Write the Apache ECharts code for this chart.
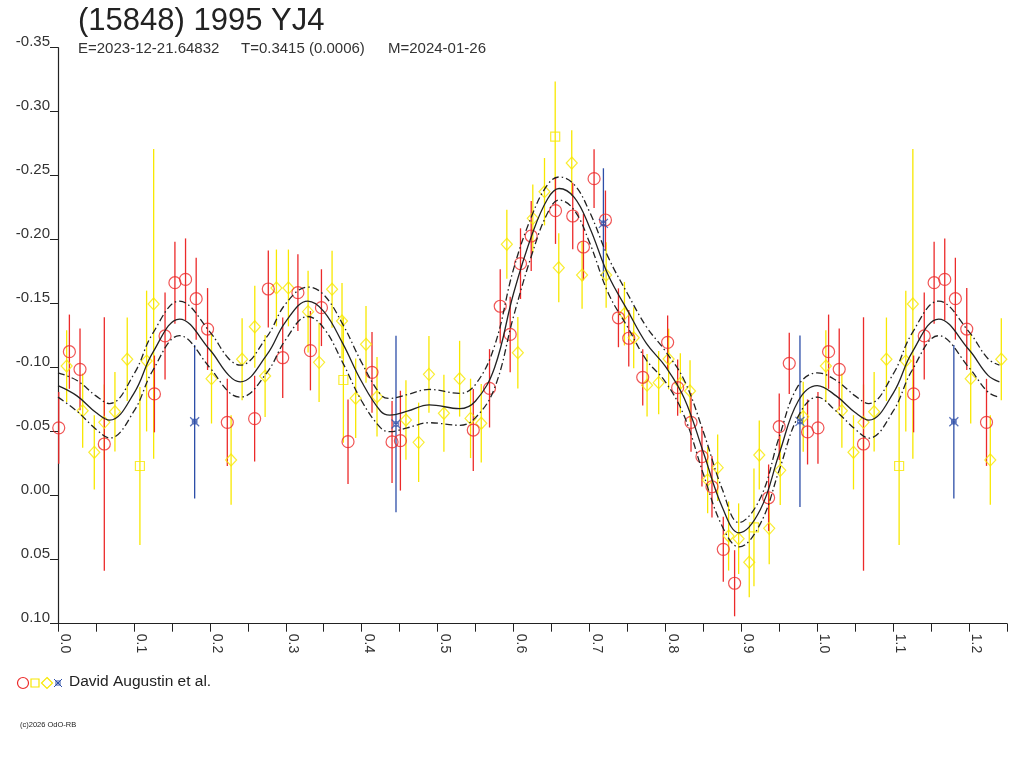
<!DOCTYPE html>
<html>
<head>
<meta charset="utf-8">
<script src="https://cdn.jsdelivr.net/npm/echarts@6/dist/echarts.min.js"></script>
<style>
  html, body { margin: 0; padding: 0; background: #fff; }
  #chart { width: 1024px; height: 768px; }
</style>
</head>
<body>
<div id="chart"></div>
<script>
// rotational phase vs. relative magnitude, one period; points below 0.25 are repeated after 1.0
const redPhase = [0.001, 0.015, 0.029, 0.061, 0.127, 0.141, 0.154, 0.168, 0.182, 0.197, 0.223, 0.259, 0.277, 0.296, 0.316, 0.3325, 0.347, 0.382, 0.4136, 0.440, 0.451, 0.547, 0.5684, 0.5825, 0.5956, 0.6092, 0.6233, 0.6553, 0.678, 0.6921, 0.7061, 0.7211, 0.7382, 0.7518, 0.7702, 0.803, 0.8162, 0.8338, 0.8482, 0.8614, 0.8763, 0.8912, 0.936, 0.95, 0.9632, 0.9873];
const redMag = [-0.053, -0.1125, -0.0987, -0.0404, -0.0795, -0.1248, -0.1664, -0.169, -0.1539, -0.1302, -0.0573, -0.0602, -0.1615, -0.1078, -0.1586, -0.1133, -0.1469, -0.0422, -0.0964, -0.042, -0.043, -0.0513, -0.0839, -0.148, -0.126, -0.1813, -0.2029, -0.2227, -0.2185, -0.1943, -0.2477, -0.2154, -0.139, -0.123, -0.0925, -0.1198, -0.0844, -0.0573, -0.0305, -0.007, 0.0419, 0.0684, 0.0016, -0.0539, -0.1034, -0.0498];
const redErr = [0.028, 0.029, 0.032, 0.099, 0.030, 0.034, 0.032, 0.032, 0.032, 0.032, 0.034, 0.0335, 0.030, 0.0315, 0.030, 0.031, 0.030, 0.033, 0.0315, 0.032, 0.039, 0.032, 0.0306, 0.029, 0.0295, 0.0276, 0.0273, 0.026, 0.026, 0.026, 0.023, 0.023, 0.023, 0.022, 0.022, 0.021, 0.022, 0.023, 0.0234, 0.024, 0.0254, 0.0258, 0.026, 0.026, 0.024, 0.0254];

const squarePhase = [0.1079, 0.3759, 0.6549, 0.9167];
const squareMag = [-0.0232, -0.0904, -0.2805, 0.0247];
const squareErr = [0.0618, 0.049, 0.043, 0.046];

const diamondPhase = [0.0114, 0.0325, 0.0478, 0.061, 0.075, 0.0912, 0.1167, 0.126, 0.2022, 0.228, 0.2425, 0.2592, 0.2728, 0.2877, 0.3035, 0.3294, 0.3439, 0.361, 0.3741, 0.3921, 0.4057, 0.4202, 0.4583, 0.475, 0.4886, 0.5083, 0.529, 0.5434, 0.5575, 0.5912, 0.6057, 0.6254, 0.6408, 0.6596, 0.6767, 0.6903, 0.722, 0.7461, 0.7583, 0.7759, 0.7912, 0.8043, 0.8197, 0.8325, 0.8557, 0.8689, 0.8833, 0.8965, 0.9105, 0.9237, 0.9368, 0.9513, 0.9816];
const diamondMag = [-0.1013, -0.0664, -0.0339, -0.0573, -0.0656, -0.1066, -0.1052, -0.1498, -0.0914, -0.0279, -0.1066, -0.132, -0.0935, -0.1623, -0.1623, -0.1438, -0.1042, -0.1613, -0.1365, -0.0761, -0.1183, -0.0773, -0.0591, -0.0417, -0.0948, -0.0644, -0.0914, -0.0604, -0.0566, -0.1964, -0.1117, -0.2167, -0.2375, -0.1781, -0.2599, -0.1724, -0.1724, -0.1422, -0.1234, -0.0863, -0.0883, -0.1068, -0.0878, -0.0818, -0.0123, -0.0219, 0.0315, 0.0336, 0.052, -0.0318, 0.0255, -0.0198, -0.0617];
const diamondErr = [0.028, 0.029, 0.029, 0.0296, 0.031, 0.0326, 0.055, 0.121, 0.035, 0.035, 0.032, 0.032, 0.032, 0.030, 0.030, 0.032, 0.031, 0.030, 0.0296, 0.031, 0.030, 0.031, 0.031, 0.031, 0.030, 0.030, 0.0296, 0.031, 0.0306, 0.027, 0.028, 0.0264, 0.0263, 0.027, 0.0257, 0.0263, 0.0256, 0.0248, 0.0238, 0.0244, 0.0247, 0.0237, 0.0234, 0.024, 0.026, 0.026, 0.027, 0.0276, 0.0273, 0.027, 0.028, 0.027, 0.0273];

const starPhase = [0.180, 0.4452, 0.7184, 0.9773];
const starMag = [-0.0578, -0.056, -0.2128, -0.0581];
const starErr = [0.060, 0.069, 0.043, 0.067];

// fitted light curve (solid) and its uncertainty envelope (dash-dot)
const fitPhase = [0, 0.025, 0.05, 0.068, 0.1, 0.125, 0.16, 0.2, 0.225, 0.24, 0.275, 0.3, 0.329, 0.35, 0.375, 0.4, 0.425, 0.437, 0.46, 0.489, 0.529, 0.55, 0.575, 0.6, 0.625, 0.645, 0.66, 0.68, 0.7, 0.725, 0.75, 0.775, 0.8, 0.825, 0.85, 0.875, 0.897, 0.925, 0.95, 0.975];
const fitMid = [-0.086, -0.078, -0.065, -0.059, -0.080, -0.112, -0.138, -0.114, -0.094, -0.089, -0.110, -0.136, -0.152, -0.144, -0.119, -0.089, -0.066, -0.063, -0.066, -0.071, -0.068, -0.074, -0.100, -0.158, -0.205, -0.232, -0.240, -0.233, -0.210, -0.172, -0.145, -0.119, -0.101, -0.076, -0.034, 0.009, 0.029, 0.011, -0.033, -0.074];
const fitHigh = [-0.096, -0.090, -0.078, -0.072, -0.095, -0.127, -0.152, -0.128, -0.107, -0.102, -0.124, -0.150, -0.163, -0.157, -0.134, -0.104, -0.079, -0.076, -0.079, -0.083, -0.080, -0.087, -0.117, -0.177, -0.220, -0.243, -0.249, -0.243, -0.222, -0.186, -0.158, -0.132, -0.113, -0.090, -0.050, -0.005, 0.021, 0.002, -0.046, -0.086];
const fitLow = [-0.077, -0.066, -0.052, -0.045, -0.066, -0.098, -0.125, -0.100, -0.081, -0.077, -0.096, -0.122, -0.140, -0.131, -0.104, -0.074, -0.053, -0.050, -0.053, -0.057, -0.055, -0.061, -0.084, -0.140, -0.190, -0.221, -0.231, -0.223, -0.198, -0.158, -0.132, -0.106, -0.089, -0.062, -0.017, 0.024, 0.040, 0.022, -0.020, -0.062];

const PHASE_MAX = 1.25;
const RED = '#ec2a2a', YELLOW = '#f8e800', BLUE = '#2d4ea8', INK = '#222';

// phase-fold: show each point once, plus again one period later while it stays on the axis
function folded(ph, mag, err) {
  const out = [];
  for (let k = 0; k < 2; k++) {
    ph.forEach((p, i) => {
      const x = p + k;
      if (x <= PHASE_MAX) out.push(err ? [x, mag[i], err[i]] : [x, mag[i]]);
    });
  }
  return out.sort((a, b) => a[0] - b[0]);
}

function errorBars(data, color) {
  return {
    type: 'custom',
    z: 1,
    silent: true,
    encode: { x: 0, y: 1 },
    data: data,
    renderItem(params, api) {
      const x = api.value(0), y = api.value(1), e = api.value(2);
      const a = api.coord([x, y - e]);
      const b = api.coord([x, y + e]);
      return { type: 'line', shape: { x1: a[0], y1: a[1], x2: b[0], y2: b[1] }, style: { stroke: color, lineWidth: 1.3 } };
    }
  };
}

function marks(data, symbol, size, color) {
  return {
    type: 'scatter', z: 3, symbol: symbol, symbolSize: size,
    data: data.map(d => [d[0], d[1]]),
    itemStyle: { color: 'rgba(0,0,0,0)', borderColor: color, borderWidth: 1.2 }
  };
}

function fitLine(vals, dashed) {
  // close the period at phase 1.0 with the phase-0 value, then fold
  const pts = folded(fitPhase.concat([1.0]), vals.concat([vals[0]]));
  const uniq = pts.filter((d, i) => i === 0 || d[0] !== pts[i - 1][0]);
  return {
    type: 'line', z: 4, smooth: 0.4, showSymbol: false, silent: true,
    data: uniq,
    lineStyle: { color: INK, width: 1.3, type: dashed ? [7, 3, 1.5, 3] : 'solid' }
  };
}

const red = folded(redPhase, redMag, redErr);
const sq = folded(squarePhase, squareMag, squareErr);
const dia = folded(diamondPhase, diamondMag, diamondErr);
const star = folded(starPhase, starMag, starErr);

const STAR_PATH = 'path://M0,0L10,10M10,0L0,10M2.5,2.5L7.5,2.5L7.5,7.5L2.5,7.5Z';

const chart = echarts.init(document.getElementById('chart'));
chart.setOption({
  backgroundColor: '#fff',
  animation: false,
  textStyle: { fontFamily: 'Liberation Sans, Arial, sans-serif' },
  grid: { left: 58, right: 17, top: 47.7, bottom: 144.3, outerBoundsMode: 'none' },
  xAxis: {
    type: 'value', min: 0, max: PHASE_MAX, interval: 0.05,
    axisLine: { onZero: false, lineStyle: { color: INK, width: 1.2 } },
    axisTick: { length: 8, lineStyle: { color: INK } },
    splitLine: { show: false },
    axisLabel: {
      rotate: -90, margin: 10, fontSize: 14, color: '#333', verticalAlign: 'bottom',
      formatter: v => (Math.round(v * 100) % 10 === 0 && v < PHASE_MAX) ? v.toFixed(1) : ''
    }
  },
  yAxis: {
    type: 'value', inverse: true, min: -0.35, max: 0.10, interval: 0.05,
    axisLine: { show: true, onZero: false, lineStyle: { color: INK, width: 1.2 } },
    axisTick: { show: true, length: 8, lineStyle: { color: INK } },
    splitLine: { show: false },
    axisLabel: { margin: 8, fontSize: 15, color: '#333', verticalAlign: 'bottom', lineHeight: 12, formatter: v => v.toFixed(2) }
  },
  graphic: [
    { type: 'text', x: 78, y: 6, style: { text: '(15848) 1995 YJ4', fontSize: 31, fill: INK, fontFamily: 'Liberation Sans' } },
    { type: 'text', x: 78, y: 41, style: { text: 'E=2023-12-21.64832', fontSize: 15, fill: '#333', fontFamily: 'Liberation Sans' } },
    { type: 'text', x: 241, y: 41, style: { text: 'T=0.3415 (0.0006)', fontSize: 15, fill: '#333', fontFamily: 'Liberation Sans' } },
    { type: 'text', x: 388, y: 41, style: { text: 'M=2024-01-26', fontSize: 15, fill: '#333', fontFamily: 'Liberation Sans' } },
    { type: 'circle', shape: { cx: 23, cy: 683, r: 5.5 }, style: { fill: 'none', stroke: RED, lineWidth: 1.2 } },
    { type: 'rect', shape: { x: 31, y: 679, width: 8, height: 8 }, style: { fill: 'none', stroke: YELLOW, lineWidth: 1.2 } },
    { type: 'polygon', shape: { points: [[47, 677.5], [52.5, 683], [47, 688.5], [41.5, 683]] }, style: { fill: 'none', stroke: YELLOW, lineWidth: 1.2 } },
    { type: 'line', shape: { x1: 54, y1: 679, x2: 62, y2: 687 }, style: { stroke: BLUE, lineWidth: 1 } },
    { type: 'line', shape: { x1: 62, y1: 679, x2: 54, y2: 687 }, style: { stroke: BLUE, lineWidth: 1 } },
    { type: 'rect', shape: { x: 56, y: 681, width: 4, height: 4 }, style: { fill: 'none', stroke: BLUE, lineWidth: 1 } },
    { type: 'text', x: 69, y: 674, style: { text: 'David Augustin et al.', fontSize: 15.5, fill: INK, fontFamily: 'Liberation Sans' } },
    { type: 'text', x: 20, y: 721, style: { text: '(c)2026 OdO-RB', fontSize: 7.5, fill: INK, fontFamily: 'Liberation Sans' } }
  ],
  series: [
    errorBars(dia, YELLOW),
    errorBars(sq, YELLOW),
    errorBars(red, RED),
    errorBars(star, BLUE),
    marks(dia, 'diamond', [11, 12], YELLOW),
    marks(sq, 'rect', 9, YELLOW),
    marks(red, 'circle', 12, RED),
    marks(star, STAR_PATH, 9, BLUE),
    fitLine(fitMid, false),
    fitLine(fitHigh, true),
    fitLine(fitLow, true)
  ]
});
</script>
</body>
</html>
